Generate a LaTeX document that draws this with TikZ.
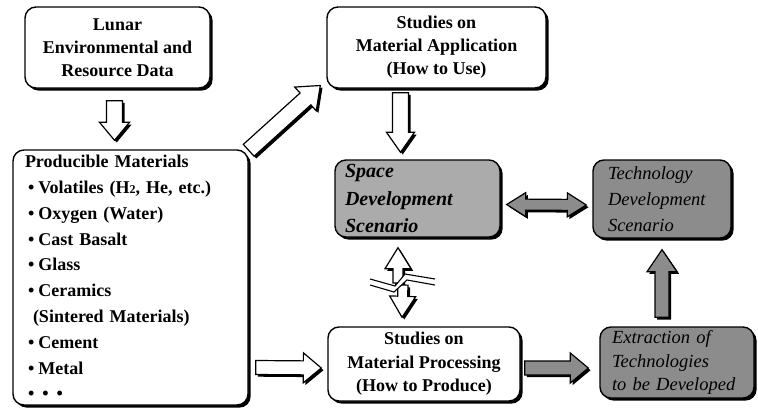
\documentclass[tikz,border=0pt]{standalone}
\usepackage{fontspec}
\setmainfont{Liberation Serif}
\usetikzlibrary{calc,shadows}
% block arrow: #1 style, #2 start, #3 end, #4 shaft half width, #5 head half width, #6 head length
\newcommand{\blockarr}[6]{%
  \coordinate (tmpH) at ($(#3)!#6!(#2)$);
  \draw[#1] ($(#2)!#4!90:(#3)$) -- ($(tmpH)!#4!90:(#3)$) -- ($(tmpH)!#5!90:(#3)$) -- (#3)
    -- ($(tmpH)!#5!-90:(#3)$) -- ($(tmpH)!#4!-90:(#3)$) -- ($(#2)!#4!-90:(#3)$) -- cycle;}
% double block arrow
\newcommand{\dblarr}[6]{%
  \coordinate (tmpA) at ($(#2)!#6!(#3)$);
  \coordinate (tmpB) at ($(#3)!#6!(#2)$);
  \draw[#1] (#2) -- ($(tmpA)!#5!-90:(#3)$) -- ($(tmpA)!#4!-90:(#3)$) -- ($(tmpB)!#4!90:(#2)$)
    -- ($(tmpB)!#5!90:(#2)$) -- (#3) -- ($(tmpB)!#5!-90:(#2)$) -- ($(tmpB)!#4!-90:(#2)$)
    -- ($(tmpA)!#4!90:(#3)$) -- ($(tmpA)!#5!90:(#3)$) -- cycle;}
\tikzset{
  box/.style={draw=black, line width=1.4pt, rounded corners=11pt, fill=white,
    drop shadow={shadow xshift=2.6pt, shadow yshift=-2.6pt, fill=black, opacity=1},
    inner sep=0pt, font=\fontsize{18}{23}\selectfont\bfseries},
  graybox/.style={box, fill=black!45},
  lightbox/.style={box, fill=black!33},
  arrw/.style={draw=black, line width=1.2pt, fill=white, line join=miter,
    drop shadow={shadow xshift=2.2pt, shadow yshift=-2.2pt, fill=black, opacity=1}},
  garrw/.style={arrw, fill=black!45},
  breakline/.style={draw=black, line width=1.1pt},
}
\begin{document}
\begin{tikzpicture}[x=1pt,y=1pt]
\useasboundingbox (0,0) rectangle (758,-413);
\fill[white] (0,0) rectangle (758,-413);

% boxes
\node[box, minimum width=185pt, minimum height=81pt, align=center] (lunar) at (117.5,-47.5)
  {Lunar\\Environmental and\\Resource Data};
\node[box, minimum width=219pt, minimum height=81pt, align=center] (app) at (436.5,-47.5)
  {Studies on\\Material Application\\(How to Use)};
\node[box, minimum width=235pt, minimum height=255pt, inner xsep=12pt, text width=211pt, align=left,
  font=\fontsize{18}{25.8}\selectfont\bfseries] (prod) at (130.5,-277.5)
  {Producible Materials\\
   \hspace*{3pt}\textbullet\hspace{4pt}Volatiles (H{\fontsize{12}{12}\selectfont 2}, He, etc.)\\
   \hspace*{3pt}\textbullet\hspace{4pt}Oxygen (Water)\\
   \hspace*{3pt}\textbullet\hspace{4pt}Cast Basalt\\
   \hspace*{3pt}\textbullet\hspace{4pt}Glass\\
   \hspace*{3pt}\textbullet\hspace{4pt}Ceramics\\
   \hspace*{8pt}(Sintered Materials)\\
   \hspace*{3pt}\textbullet\hspace{4pt}Cement\\
   \hspace*{3pt}\textbullet\hspace{4pt}Metal\\
   \hspace*{3pt}\textbullet\hspace{8pt}\textbullet\hspace{8pt}\textbullet};
\node[lightbox, minimum width=165pt, minimum height=77pt, inner xsep=10pt, text width=145pt, align=left,
  font=\fontsize{20}{27.5}\selectfont\bfseries\itshape] (space) at (417.5,-198.5)
  {Space\\Development\\Scenario};
\node[graybox, minimum width=138pt, minimum height=78pt, inner xsep=15pt, text width=108pt, align=left,
  font=\fontsize{18.5}{26}\selectfont\itshape] (tech) at (662,-199)
  {Technology\\Development\\Scenario};
\node[box, minimum width=192pt, minimum height=74pt, align=center,
  font=\fontsize{18}{23.5}\selectfont\bfseries] (proc) at (424,-364)
  {Studies on\\Material Processing\\(How to Produce)};
\node[graybox, minimum width=154pt, minimum height=71pt, inner xsep=12pt, text width=130pt, align=left,
  font=\fontsize{18.5}{23.5}\selectfont\itshape] (extr) at (677,-362.5)
  {Extraction of\\Technologies\\to be Developed};

% arrow end points
\coordinate (a1s) at ($(lunar.south)+(-3,-12)$);
\coordinate (a1e) at ($(prod.north)+(-16,9)$);
\coordinate (a2s) at ($(prod.north east)+(0,-1)$);
\coordinate (a2e) at ($(app.west)+(-6,-38)$);
\coordinate (a3s) at ($(app.south)+(-36,-4)$);
\coordinate (a3e) at ($(space.north)+(-17,7)$);
\coordinate (a4s) at ($(space.east)+(6,-6)$);
\coordinate (a4e) at ($(tech.west)+(-6,-6)$);
\coordinate (a5s) at ($(prod.east)+(7,-90)$);
\coordinate (a5e) at ($(proc.west)+(-6,-4)$);
\coordinate (a6s) at ($(proc.east)+(4,-4)$);
\coordinate (a6e) at ($(extr.west)+(-11,-5.5)$);
\coordinate (a7s) at ($(extr.north)+(-15,9)$);
\coordinate (a7e) at ($(tech.south)+(0,-11)$);
\coordinate (b1s) at (398,-283);
\coordinate (b1e) at ($(space.south)+(-19.5,-10)$);
\coordinate (b2s) at (403,-285);
\coordinate (b2e) at ($(proc.north)+(-22,9)$);

\blockarr{arrw}{a1s}{a1e}{8pt}{15pt}{18pt}
\blockarr{arrw}{a2s}{a2e}{8pt}{16pt}{20pt}
\blockarr{arrw}{a3s}{a3e}{8pt}{14pt}{20pt}
\dblarr{garrw}{a4s}{a4e}{5.5pt}{12pt}{19pt}
\blockarr{arrw}{a5s}{a5e}{7pt}{15pt}{18pt}
\blockarr{garrw}{a6s}{a6e}{7pt}{15pt}{18pt}
\blockarr{garrw}{a7s}{a7e}{7pt}{15pt}{22pt}

% broken double arrow between scenario and processing
\blockarr{arrw}{b1s}{b1e}{5pt}{13pt}{21pt}
\blockarr{arrw}{b2s}{b2e}{5pt}{13pt}{21pt}
\fill[white] (370,-279) -- (395,-286) -- (405,-274) -- (435,-279)
  -- (435,-285) -- (407,-280) -- (394,-292) -- (370,-285) -- cycle;
\draw[breakline] (370,-279) -- (395,-286) -- (405,-274) -- (435,-279);
\draw[breakline] (370,-285) -- (394,-292) -- (407,-280) -- (435,-285);
\end{tikzpicture}
\end{document}
